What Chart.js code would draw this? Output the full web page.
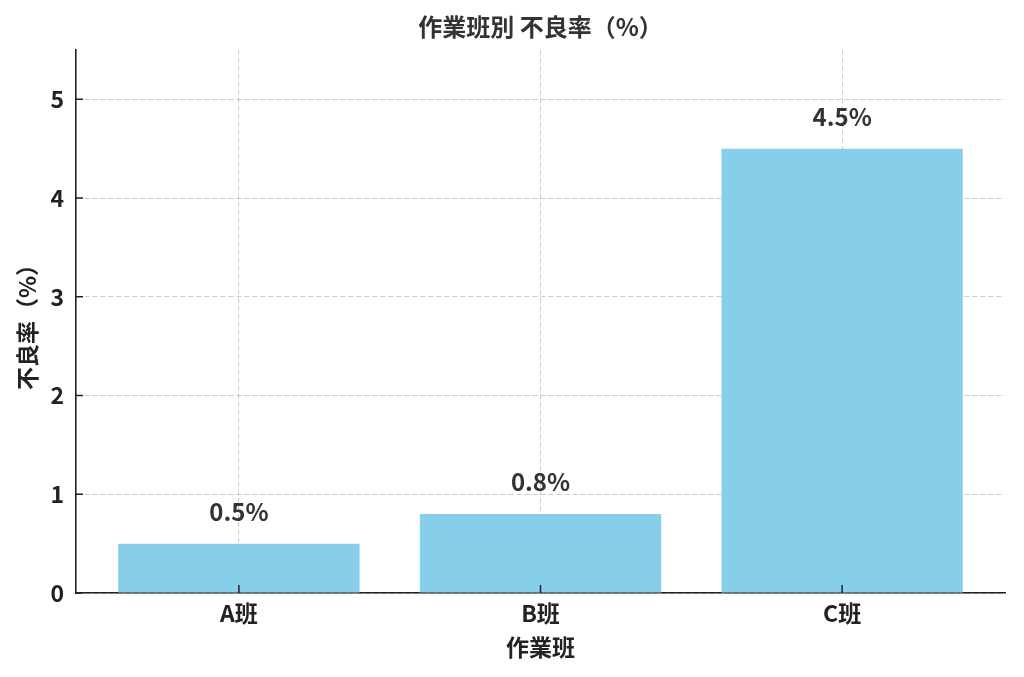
<!DOCTYPE html>
<html>
<head>
<meta charset="utf-8">
<script src="https://cdn.jsdelivr.net/npm/chart.js@4.4.0/dist/chart.umd.min.js"></script>
<style>
  html, body { margin: 0; padding: 0; background: #fff; }
</style>
</head>
<body>
<canvas id="chart" width="1024" height="677"></canvas>
<script>
// data
const groups = ['A班', 'B班', 'C班'];
const defectRates = [0.5, 0.8, 4.5];
const yTickValues = [0, 1, 2, 3, 4, 5];
const chartTitle = '作業班別 不良率（%）';

const FONT = '"Noto Sans CJK JP", "Noto Sans", sans-serif';

// title centred over the plot area (as matplotlib does)
const plotTitle = {
  id: 'plotTitle',
  afterDraw(chart) {
    const ctx = chart.ctx;
    const area = chart.chartArea;
    ctx.save();
    ctx.font = 'bold 24px ' + FONT;
    ctx.fillStyle = '#333';
    ctx.textAlign = 'center';
    ctx.textBaseline = 'middle';
    ctx.fillText(chartTitle, (area.left + area.right) / 2, 27);
    ctx.restore();
  }
};

// value labels above the bars
const barLabels = {
  id: 'barLabels',
  afterDraw(chart) {
    const ctx = chart.ctx;
    const meta = chart.getDatasetMeta(0);
    ctx.save();
    ctx.font = 'bold 24px ' + FONT;
    ctx.fillStyle = '#333';
    ctx.textAlign = 'center';
    ctx.textBaseline = 'middle';
    meta.data.forEach((bar, i) => {
      ctx.fillText(defectRates[i].toFixed(1) + '%', bar.x, bar.y - 32);
    });
    ctx.restore();
  }
};

// small inward tick marks like the original
const innerTicks = {
  id: 'innerTicks',
  afterDraw(chart) {
    const ctx = chart.ctx;
    const x = chart.scales.x, y = chart.scales.y;
    const area = chart.chartArea;
    ctx.save();
    ctx.strokeStyle = '#222';
    ctx.lineWidth = 1.5;
    ctx.beginPath();
    y.ticks.forEach(t => {
      const py = y.getPixelForValue(t.value);
      ctx.moveTo(area.left, py);
      ctx.lineTo(area.left + 7, py);
    });
    x.ticks.forEach(t => {
      const px = x.getPixelForValue(t.value);
      ctx.moveTo(px, area.bottom);
      ctx.lineTo(px, area.bottom - 8);
    });
    ctx.stroke();
    ctx.restore();
  }
};

new Chart(document.getElementById('chart'), {
  type: 'bar',
  data: {
    datasets: [{
      data: groups.map((g, i) => ({ x: i, y: defectRates[i] })),
      backgroundColor: '#87CEEB',
      borderWidth: 0,
      barPercentage: 0.8,
      categoryPercentage: 1.0
    }]
  },
  options: {
    responsive: false,
    animation: false,
    layout: { padding: { top: 50, right: 19, bottom: 0, left: 0 } },
    plugins: {
      legend: { display: false },
      tooltip: { enabled: false },
      title: { display: false }
    },
    scales: {
      x: {
        type: 'linear',
        min: -0.54,
        max: 2.54,
        offset: false,
        z: 1,
        afterBuildTicks: s => { s.ticks = groups.map((g, i) => ({ value: i })); },
        afterFit: s => { s.height = 84; },
        ticks: {
          padding: 6.2,
          color: '#222',
          font: { family: FONT, size: 23, weight: 'bold' },
          callback: v => groups[v] ?? ''
        },
        grid: { offset: false, color: 'rgba(0,0,0,0.2)', lineWidth: 1, drawTicks: false },
        border: { display: true, color: '#222', width: 1.6, dash: [5, 3] },
        title: {
          display: true,
          text: '作業班',
          color: '#222',
          font: { family: FONT, size: 23, weight: 'bold' },
          padding: { top: 0, bottom: 16.2 }
        }
      },
      y: {
        min: 0,
        max: 5.5,
        z: 1,
        afterBuildTicks: s => { s.ticks = yTickValues.map(v => ({ value: v })); },
        afterFit: s => { s.width = 76; },
        ticks: {
          padding: 12,
          color: '#222',
          font: { family: FONT, size: 23, weight: 'bold' }
        },
        grid: { color: 'rgba(0,0,0,0.2)', lineWidth: 1, drawTicks: false },
        border: { display: true, color: '#222', width: 1.6, dash: [5, 3] },
        title: {
          display: true,
          text: '不良率（%）',
          color: '#222',
          font: { family: FONT, size: 23, weight: 'bold' },
          padding: { top: 13.7, bottom: 0 }
        }
      }
    }
  },
  plugins: [plotTitle, barLabels, innerTicks]
});
</script>
</body>
</html>
